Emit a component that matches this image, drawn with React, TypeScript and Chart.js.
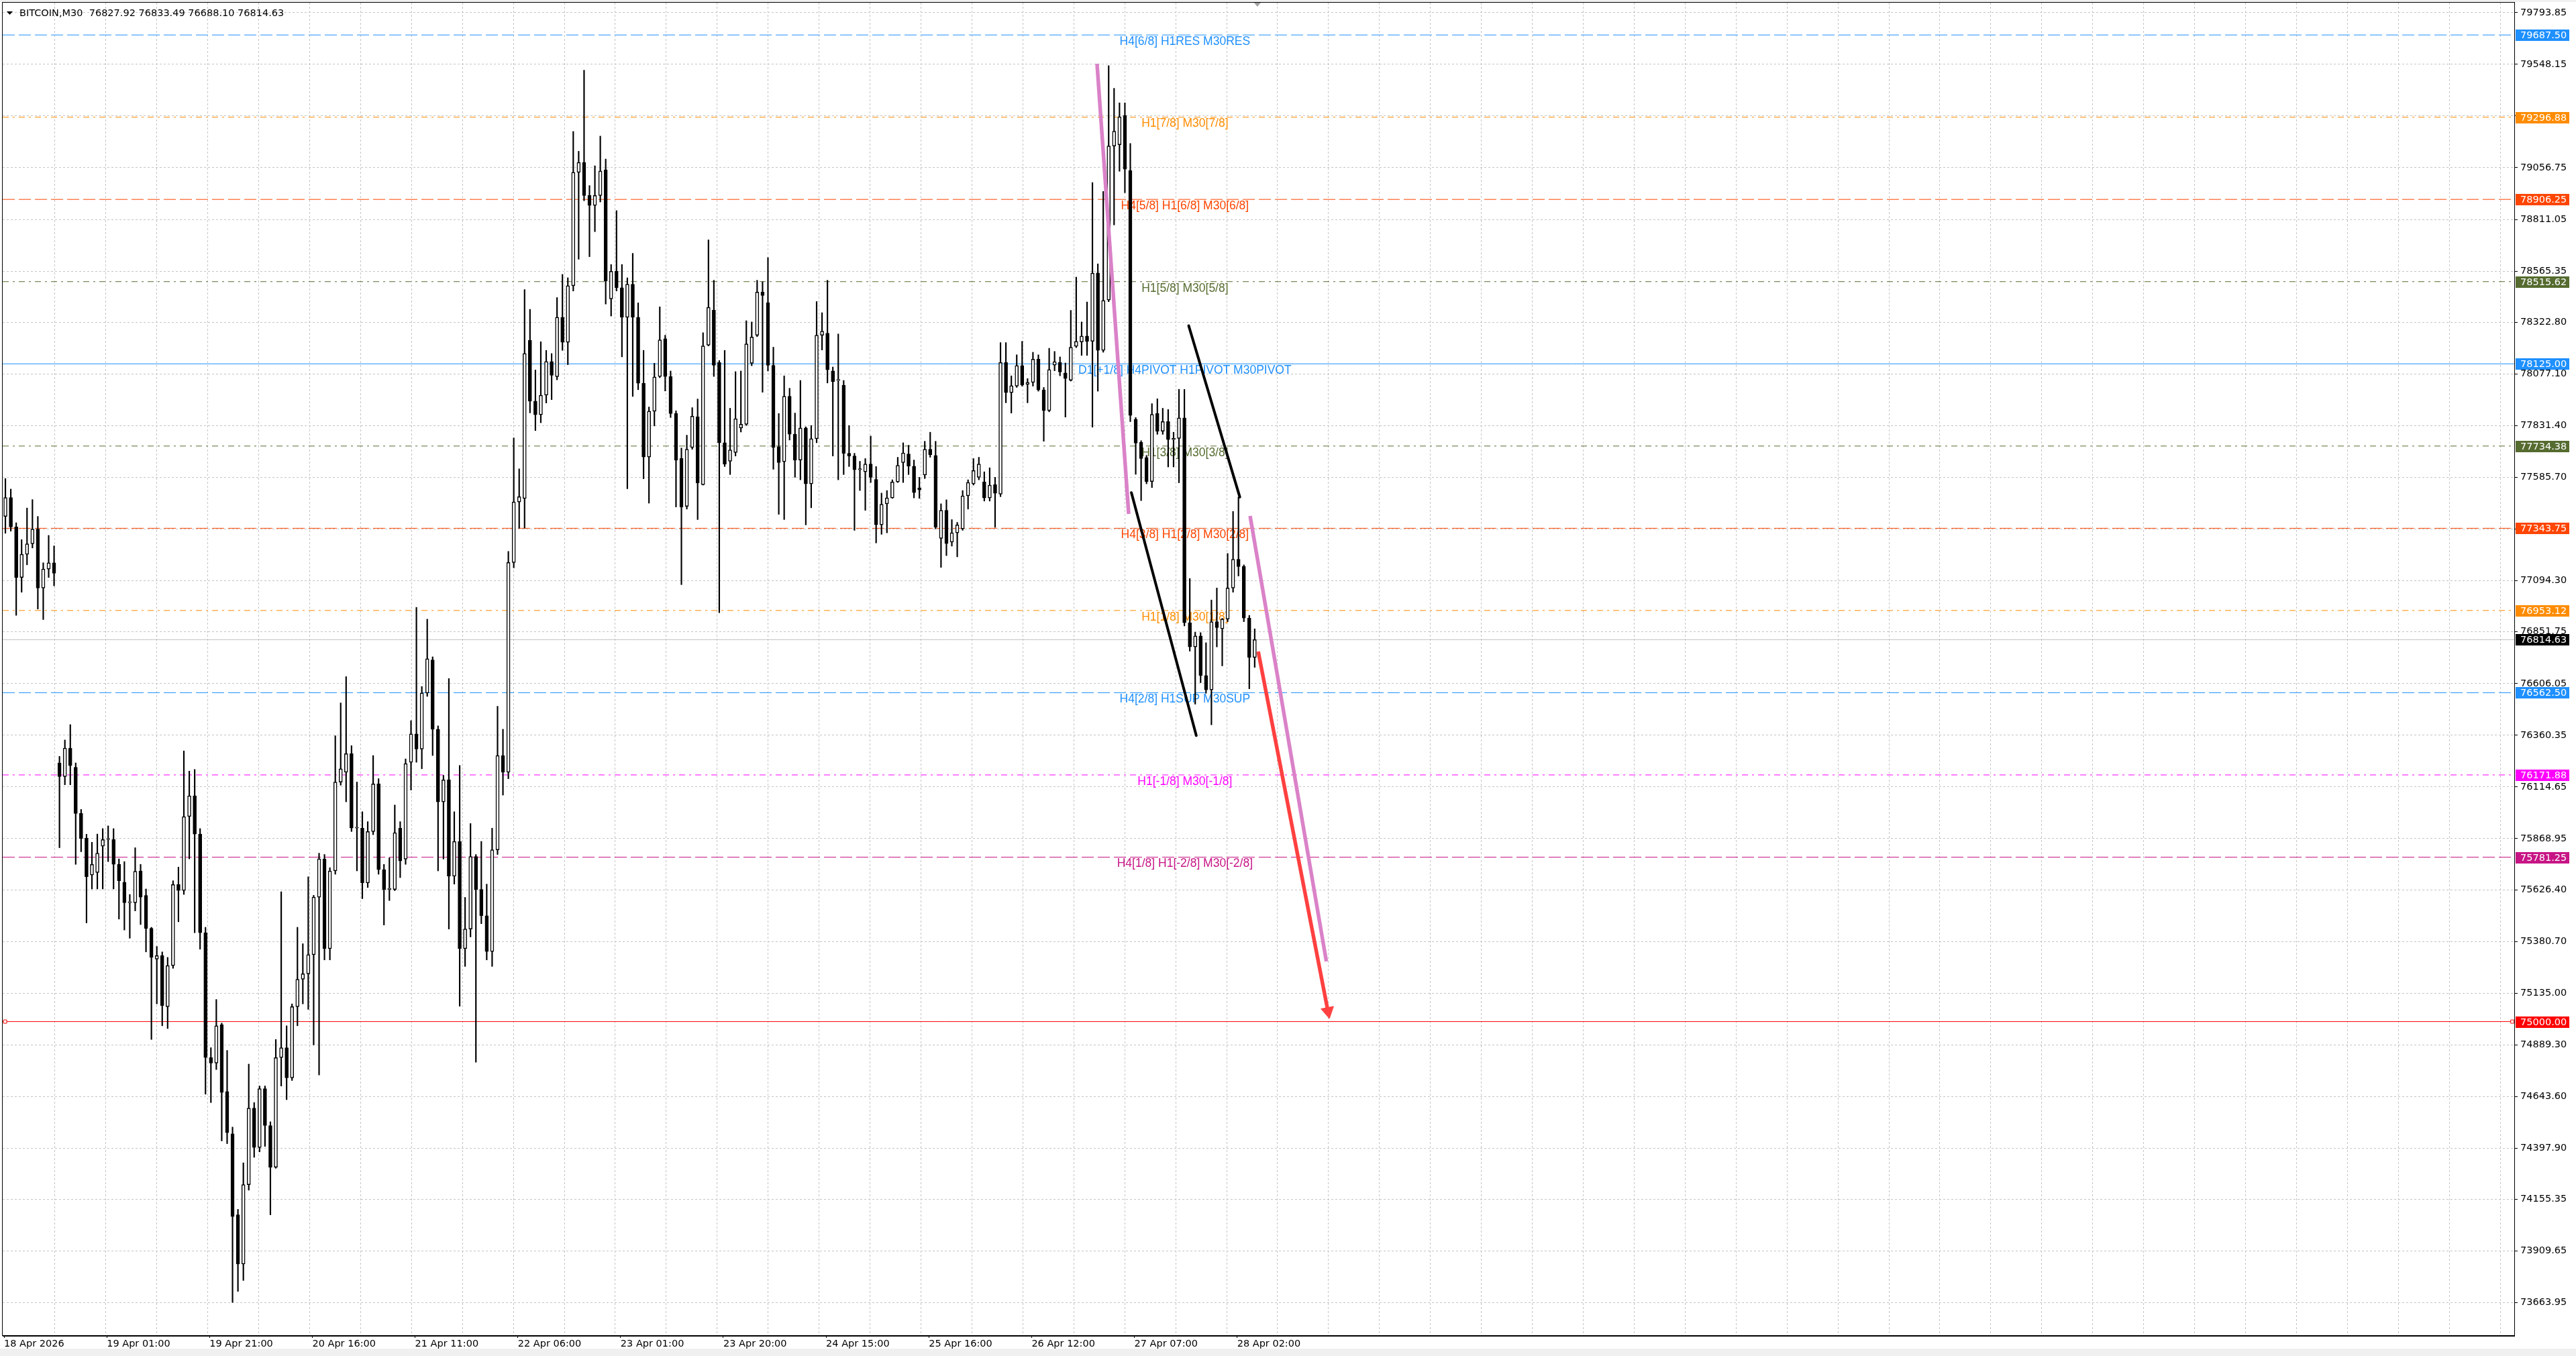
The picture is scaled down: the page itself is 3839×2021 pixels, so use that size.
import { useEffect, useRef } from 'react';
import { Chart, registerables } from 'chart.js';

Chart.register(...registerables);

// hourly candles (x = M30 bar index, 2 bars per candle)
const OPEN = [
  77400, 77490, 77350, 77110, 77220, 77270, 77340, 77060, 77150, 77180,
  76229, 76164, 76299, 76208, 75989, 75872, 75696, 75708, 75833, 75865,
  75865, 75747, 75662, 75565, 75565, 75716, 75599, 75443, 75297, 75313,
  75071, 75266, 75651, 75623, 75974, 76073, 75891, 75422, 74829, 74803,
  74985, 74668, 74467, 74082, 73848, 74225, 74589, 74402, 74681, 74506,
  74308, 74829, 74876, 74733, 75071, 75201, 75227, 75318, 75591, 75772,
  75346, 75716, 76138, 76185, 76273, 75919, 75919, 75659, 75903, 76129,
  75722, 75628, 75628, 75919, 75772, 76232, 76367, 76295, 76561, 76718,
  76389, 76044, 76148, 75691, 75856, 75346, 75440, 75784, 75628, 75503,
  75333, 75816, 76264, 76185, 77181, 77469, 77485, 78236, 77948, 77883,
  77976, 78136, 78064, 78346, 78227, 78496, 79035, 79082, 78925, 78878,
  78925, 79047, 78434, 78565, 78487, 78346, 78503, 78346, 78033, 77682,
  77900, 78065, 78244, 78065, 77889, 77675, 77448, 77728, 77874, 77551,
  78214, 78380, 78131, 77750, 77662, 77704, 77820, 77838, 78128, 78261,
  78466, 78416, 78118, 77731, 77660, 77971, 77791, 77668, 77820, 77555,
  77769, 78261, 78271, 78091, 78046, 78024, 77700, 77687, 77622, 77612,
  77649, 77576, 77360, 77460, 77488, 77564, 77656, 77697, 77639, 77536,
  77597, 77719, 77690, 77296, 77429, 77278, 77322, 77341, 77498, 77555,
  77586, 77564, 77488, 77551, 77506, 78131, 77988, 78019, 78117, 78027,
  78037, 78147, 78001, 77903, 78119, 78131, 78082, 78047, 78208, 78229,
  78257, 78232, 78557, 78189, 78428, 79160, 79166, 79305, 79043, 77862,
  77752, 77680, 77566, 77890, 77805, 77851, 77765, 77771, 77868, 76895,
  76780, 76832, 76644, 76576, 76900, 76866, 76912, 77060, 77196, 77162,
  76917, 76730
];
const HIGH = [
  77580, 77530, 77370, 77290, 77440, 77480, 77400, 77180, 77310, 77260,
  76260, 76338, 76411, 76229, 76008, 75890, 75852, 75891, 75917, 75930,
  75917, 75773, 75760, 75604, 75826, 75747, 75630, 75448, 75357, 75331,
  75305, 75669, 75734, 76286, 76190, 76198, 75917, 75448, 74876, 75105,
  74993, 74863, 74499, 74108, 74329, 74798, 74615, 74694, 74694, 74524,
  74915, 75617, 74980, 75084, 75448, 75370, 75688, 75600, 75800, 75794,
  75731, 76358, 76514, 76639, 76311, 76138, 75997, 75950, 76264, 76154,
  75747, 75778, 76029, 75950, 76248, 76430, 76968, 76592, 76912, 76733,
  76405, 76170, 76630, 75997, 76217, 75590, 75941, 75794, 75856, 75653,
  75919, 76498, 76389, 77234, 77773, 77626, 78478, 78384, 78096, 78230,
  78189, 78174, 78440, 78550, 78534, 79229, 79135, 79520, 78972, 79066,
  79207, 79098, 78597, 78853, 78597, 78534, 78650, 78415, 78189, 77920,
  78128, 78396, 78261, 78091, 77902, 77725, 77786, 77917, 77958, 78273,
  78714, 78522, 78141, 78189, 77914, 78088, 78091, 78330, 78324, 78522,
  78515, 78630, 78204, 77889, 78068, 78009, 77891, 78046, 77826, 77832,
  78421, 78368, 78522, 78110, 78267, 78046, 77832, 77700, 77662, 77675,
  77782, 77637, 77511, 77523, 77574, 77681, 77750, 77738, 77668, 77586,
  77757, 77800, 77757, 77460, 77479, 77385, 77372, 77523, 77574, 77675,
  77681, 77612, 77631, 77586, 78226, 78226, 78068, 78168, 78232, 78055,
  78180, 78168, 78013, 78199, 78184, 78158, 78129, 78379, 78537, 78324,
  78419, 78986, 78600, 78944, 79542, 79434, 79365, 79365, 79172, 77870,
  77760, 77690, 77936, 77959, 77914, 77908, 77800, 78004, 78004, 77105,
  76850, 76848, 76800, 77003, 77060, 76916, 77224, 77424, 77492, 77170,
  76930, 76866
];
const LOW = [
  77320, 77330, 76930, 77040, 77170, 77250, 76960, 76910, 77110, 77070,
  75826, 76125, 76125, 75747, 75807, 75469, 75630, 75630, 75630, 75760,
  75630, 75487, 75435, 75396, 75526, 75461, 75331, 74915, 75084, 74980,
  74967, 75253, 75474, 75604, 75773, 75422, 75344, 74655, 74615, 74772,
  74433, 74420, 73666, 73718, 73770, 74199, 74355, 74381, 74407, 74082,
  74303, 74694, 74629, 74720, 74980, 75084, 75058, 74889, 74746, 75293,
  75293, 75700, 76123, 76044, 75903, 75716, 75584, 75637, 75888, 75700,
  75459, 75575, 75622, 75684, 75747, 76100, 76232, 76201, 76545, 76264,
  75716, 75772, 75440, 75653, 75073, 75262, 75402, 74807, 75465, 75293,
  75262, 75794, 76076, 76154, 77156, 77344, 77344, 77892, 77808, 77845,
  77939, 77955, 78049, 78189, 78121, 78471, 78622, 78900, 78634, 78753,
  78894, 78409, 78352, 78471, 78158, 77532, 77970, 78002, 77579, 77463,
  77830, 78059, 77996, 77870, 77445, 77076, 77435, 77719, 77385, 77549,
  78210, 78065, 76943, 77637, 77599, 77687, 77801, 77832, 78116, 78254,
  77990, 78091, 77624, 77410, 77385, 77763, 77586, 77574, 77360, 77441,
  77750, 78191, 78034, 77687, 77574, 77599, 77637, 77334, 77523, 77429,
  77561, 77274, 77315, 77322, 77486, 77561, 77561, 77599, 77488, 77486,
  77580, 77681, 77341, 77158, 77214, 77259, 77208, 77334, 77435, 77549,
  77574, 77473, 77473, 77348, 77494, 77940, 77891, 78013, 78019, 77940,
  78019, 77995, 77757, 77897, 78092, 78068, 77872, 78043, 78202, 78165,
  78165, 77824, 77995, 78180, 78420, 78785, 79040, 78938, 77850, 77600,
  77475, 77555, 77537, 77790, 77790, 77635, 77635, 77560, 76880, 76760,
  76508, 76610, 76560, 76410, 76780, 76690, 76900, 77040, 77117, 76900,
  76581, 76683
];
const CLOSE = [
  77490, 77350, 77110, 77220, 77270, 77340, 77060, 77150, 77180, 77130,
  76164, 76299, 76216, 75989, 75870, 75688, 75747, 75800, 75865, 75865,
  75747, 75669, 75565, 75565, 75714, 75591, 75443, 75305, 75313, 75076,
  75266, 75651, 75623, 75974, 76073, 75891, 75422, 74829, 74803, 74980,
  74663, 74472, 74074, 73848, 74225, 74589, 74402, 74681, 74506, 74308,
  74829, 74876, 74733, 75071, 75201, 75227, 75318, 75591, 75773, 75346,
  75716, 76138, 76201, 76273, 75919, 75919, 75659, 75903, 76129, 75722,
  75628, 75628, 75897, 75763, 76226, 76367, 76295, 76561, 76724, 76389,
  76044, 76148, 75691, 75856, 75346, 75440, 75784, 75628, 75503, 75333,
  75816, 76264, 76185, 77181, 77469, 77494, 78174, 77948, 77883, 77976,
  78136, 78070, 78346, 78227, 78496, 79035, 79082, 78925, 78878, 78925,
  79041, 78518, 78565, 78487, 78346, 78503, 78346, 78033, 77682, 77900,
  78063, 78239, 78065, 77889, 77668, 77445, 77719, 77876, 77559, 78210,
  78393, 78118, 77750, 77649, 77716, 77864, 77838, 78220, 78252, 78466,
  78450, 78118, 77728, 77656, 77971, 77791, 77668, 77820, 77555, 77769,
  78261, 78280, 78097, 78040, 78046, 77700, 77687, 77622, 77627, 77649,
  77586, 77360, 77458, 77488, 77564, 77643, 77702, 77639, 77513, 77526,
  77719, 77693, 77349, 77429, 77271, 77322, 77360, 77498, 77561, 77618,
  77649, 77488, 77549, 77510, 78131, 77988, 78021, 78117, 78025, 78037,
  78147, 78001, 77903, 78098, 78135, 78086, 78055, 78204, 78232, 78257,
  78232, 78556, 78189, 78426, 79160, 79230, 79299, 79050, 77880, 77748,
  77675, 77566, 77885, 77805, 77851, 77765, 77771, 77868, 76895, 76780,
  76832, 76644, 76576, 76900, 76872, 76912, 77060, 77196, 77162, 76917,
  76730, 76815
];

const X_LABELS = [
  '18 Apr 2026', '19 Apr 01:00', '19 Apr 21:00', '20 Apr 16:00', '21 Apr 11:00',
  '22 Apr 06:00', '23 Apr 01:00', '23 Apr 20:00', '24 Apr 15:00', '25 Apr 16:00',
  '26 Apr 12:00', '27 Apr 07:00', '28 Apr 02:00'
];
const X_LABEL_BARS = [0, 38, 76, 114, 152, 190, 228, 266, 304, 342, 380, 418, 456];

const Y_TICKS = [
  79793.85, 79548.15, 79302.45, 79056.75, 78811.05, 78565.35, 78322.8, 78077.1,
  77831.4, 77585.7, 77340.0, 77094.3, 76851.75, 76606.05, 76360.35, 76114.65,
  75868.95, 75626.4, 75380.7, 75135.0, 74889.3, 74643.6, 74397.9, 74155.35,
  73909.65, 73663.95
];

const LEVEL_PRICES = [
  79687.5, 79296.88, 78906.25, 78515.62, 78125.0, 77734.38,
  77343.75, 76953.12, 76562.5, 76171.88, 75781.25
];
const LEVEL_LABELS = [
  'H4[6/8] H1RES M30RES',
  'H1[7/8] M30[7/8]',
  'H4[5/8] H1[6/8] M30[6/8]',
  'H1[5/8] M30[5/8]',
  'D1[+1/8] H4PIVOT H1PIVOT M30PIVOT',
  'H1[3/8] M30[3/8]',
  'H4[3/8] H1[2/8] M30[2/8]',
  'H1[1/8] M30[1/8]',
  'H4[2/8] H1SUP M30SUP',
  'H1[-1/8] M30[-1/8]',
  'H4[1/8] H1[-2/8] M30[-2/8]'
];
const TARGET_PRICE = 75000;
const LAST_PRICE = 76814.63;
const LAST_BAR_OHLC = [76827.92, 76833.49, 76688.1, 76814.63];

// hand drawn objects, [bar, price] end points
const PINK_1_X = [404.2, 415.9];
const PINK_1_Y = [79551, 77412];
const PINK_2_X = [460.8, 489.0];
const PINK_2_Y = [77402, 75286];
const BLACK_1_X = [416.9, 440.9];
const BLACK_1_Y = [77513, 76359];
const BLACK_2_X = [438.1, 457.0];
const BLACK_2_Y = [78306, 77492];
const ARROW_X = [463.8, 489.6];
const ARROW_Y = [76758, 75049];

// styles
const LEVEL_COLORS = [
  '#1e90ff', '#ff8c00', '#ff4500', '#556b2f', '#1e90ff', '#556b2f',
  '#ff4500', '#ff8c00', '#1e90ff', '#ff00ff', '#c71585'
];
const LEVEL_STYLE = [
  'dash', 'dashdot', 'dash', 'dashdot', 'solid', 'dashdot',
  'dash', 'dashdot', 'dash', 'dashdot', 'dash'
];
const DASHES: Record<string, number[]> = { dash: [18, 6], dashdot: [9, 6, 3, 6], solid: [] };

const W = 3839;
const H = 2021;
const X_MIN = -0.5;
const X_MAX = 928.3;
const Y_MIN = 73509.95;
const Y_MAX = 79840.9;
const LABEL_BAR = 436.7;
const GRID_START = 18.8;
const GRID_STEP = 18.84;
const AXIS_FONT = '"DejaVu Sans", Tahoma, sans-serif';
const LEVEL_FONT = '"Liberation Sans", Arial, sans-serif';

const candleX = (i: number) => i * 2 + 0.5;

const noPad = (s: any) => {
  s.paddingTop = 0;
  s.paddingBottom = 0;
  s.paddingLeft = 0;
  s.paddingRight = 0;
};

function hline(price: number, color: string, dash: number[]) {
  return {
    type: 'line' as const,
    data: [{ x: X_MIN, y: price }, { x: X_MAX, y: price }],
    borderColor: color,
    borderWidth: 1,
    borderDash: dash,
    pointRadius: 0,
    order: 100
  };
}

function trend(xs: number[], ys: number[], color: string, width: number, cap: CanvasLineCap) {
  return {
    type: 'line' as const,
    data: xs.map((x, i) => ({ x, y: ys[i] })),
    borderColor: color,
    borderWidth: width,
    borderCapStyle: cap,
    pointRadius: 0,
    order: 10
  };
}

const decor = {
  id: 'mt4decor',
  beforeDraw(chart: Chart) {
    const { ctx, width, height } = chart;
    ctx.save();
    ctx.fillStyle = '#fff';
    ctx.fillRect(0, 0, width, height);
    ctx.fillStyle = '#f0f0f0';
    ctx.fillRect(0, height - 11, width, 11);
    ctx.fillRect(0, 0, width, 3);
    ctx.restore();
  },
  beforeDatasetsDraw(chart: Chart) {
    const { ctx } = chart;
    const x = chart.scales.x;
    const y = chart.scales.y;
    ctx.save();
    ctx.font = `17.5px ${LEVEL_FONT}`;
    ctx.textAlign = 'center';
    ctx.textBaseline = 'middle';
    LEVEL_PRICES.forEach((p, i) => {
      ctx.fillStyle = LEVEL_COLORS[i];
      ctx.fillText(LEVEL_LABELS[i], x.getPixelForValue(LABEL_BAR), y.getPixelForValue(p) + 10);
    });
    ctx.restore();
  },
  afterDraw(chart: Chart) {
    const { ctx, chartArea: a } = chart;
    const x = chart.scales.x;
    const y = chart.scales.y;
    ctx.save();
    // frame
    ctx.strokeStyle = '#000';
    ctx.lineWidth = 1;
    ctx.strokeRect(a.left - 0.5, a.top - 0.5, a.right - a.left + 1, a.bottom - a.top + 1);
    ctx.beginPath();
    ctx.moveTo(a.left, a.bottom + 1.5);
    ctx.lineTo(a.right + 1, a.bottom + 1.5);
    ctx.stroke();

    // price boxes on the right scale
    const boxes: [number, string][] = LEVEL_PRICES.map((p, i) => [p, LEVEL_COLORS[i]] as [number, string]);
    boxes.push([TARGET_PRICE, '#ff0000']);
    boxes.push([LAST_PRICE, '#000000']);
    ctx.font = `14.5px ${AXIS_FONT}`;
    ctx.textAlign = 'left';
    ctx.textBaseline = 'middle';
    for (const [p, c] of boxes) {
      const py = Math.round(y.getPixelForValue(p));
      ctx.fillStyle = c;
      ctx.fillRect(a.right + 2, py - 8, 80, 17);
      ctx.fillStyle = '#fff';
      ctx.fillText(p.toFixed(2), a.right + 9, py + 1);
    }

    // chart shift marker
    const sx = x.getPixelForValue(463.5);
    ctx.fillStyle = '#a0a0a0';
    ctx.beginPath();
    ctx.moveTo(sx - 5, a.top);
    ctx.lineTo(sx + 5, a.top);
    ctx.lineTo(sx, a.top + 6);
    ctx.closePath();
    ctx.fill();

    // header
    ctx.fillStyle = '#000';
    ctx.beginPath();
    ctx.moveTo(a.left + 6, a.top + 13);
    ctx.lineTo(a.left + 15, a.top + 13);
    ctx.lineTo(a.left + 10.5, a.top + 18);
    ctx.closePath();
    ctx.fill();
    ctx.fillStyle = '#000';
    ctx.fillText(
      `BITCOIN,M30  ${LAST_BAR_OHLC.map((v) => v.toFixed(2)).join(' ')}`,
      a.left + 25,
      a.top + 16
    );
    ctx.restore();
  }
};

export default function App() {
  const ref = useRef<HTMLCanvasElement | null>(null);

  useEffect(() => {
    document.body.style.margin = '0';
    document.body.style.overflow = 'hidden';
    if (!ref.current) return;

    const wicks = OPEN.map((_, i) => ({ x: candleX(i), y: [LOW[i], HIGH[i]] }));
    const bodies = OPEN.map((o, i) => ({ x: candleX(i), y: [o, CLOSE[i]] }));

    const levelSets = LEVEL_PRICES.map((p, i) => hline(p, LEVEL_COLORS[i], DASHES[LEVEL_STYLE[i]]));

    const chart = new Chart(ref.current, {
      type: 'bar',
      data: {
        datasets: [
          ...levelSets,
          hline(LAST_PRICE, '#c0c0c0', []),
          {
            type: 'line',
            data: [
              { x: X_MIN, y: TARGET_PRICE },
              { x: 0.4, y: TARGET_PRICE },
              { x: 927.6, y: TARGET_PRICE },
              { x: X_MAX, y: TARGET_PRICE }
            ],
            borderColor: '#ff0000',
            borderWidth: 1,
            pointStyle: 'rect',
            pointRadius: [0, 3.5, 3.5, 0],
            pointBackgroundColor: '#ffffff',
            pointBorderColor: '#ff0000',
            pointBorderWidth: 1,
            order: 90
          },
          {
            type: 'bar',
            data: wicks,
            backgroundColor: '#000',
            borderWidth: 0,
            barThickness: 1.5,
            grouped: false,
            order: 60
          },
          {
            type: 'bar',
            data: bodies,
            backgroundColor: (c: any) => (CLOSE[c.dataIndex] >= OPEN[c.dataIndex] ? '#ffffff' : '#000000'),
            borderColor: '#000',
            borderWidth: 1.5,
            borderSkipped: false,
            barThickness: 5,
            minBarLength: 1.5,
            grouped: false,
            order: 50
          },
          trend(PINK_1_X, PINK_1_Y, '#da82c8', 5.5, 'butt'),
          trend(PINK_2_X, PINK_2_Y, '#da82c8', 5.5, 'butt'),
          trend(BLACK_1_X, BLACK_1_Y, '#000000', 4, 'round'),
          trend(BLACK_2_X, BLACK_2_Y, '#000000', 4, 'round'),
          {
            type: 'line',
            data: ARROW_X.map((x, i) => ({ x, y: ARROW_Y[i] })),
            borderColor: '#ff4040',
            borderWidth: 5.5,
            borderCapStyle: 'butt',
            pointStyle: 'triangle',
            pointRadius: [0, 11],
            pointBackgroundColor: '#ff4040',
            pointBorderColor: '#ff4040',
            pointBorderWidth: 1,
            pointRotation: (c: any) => {
              const sx = c.chart.scales.x;
              const sy = c.chart.scales.y;
              const dx = sx.getPixelForValue(ARROW_X[1]) - sx.getPixelForValue(ARROW_X[0]);
              const dy = sy.getPixelForValue(ARROW_Y[1]) - sy.getPixelForValue(ARROW_Y[0]);
              return (Math.atan2(dx, -dy) * 180) / Math.PI;
            },
            order: 5
          }
        ] as any
      },
      options: {
        responsive: false,
        devicePixelRatio: 1,
        animation: false,
        events: [],
        layout: { autoPadding: false, padding: { left: 4, top: 4, right: 0, bottom: 0 } },
        plugins: {
          legend: { display: false },
          tooltip: { enabled: false }
        },
        scales: {
          x: {
            type: 'linear',
            position: 'bottom',
            offset: false,
            min: X_MIN,
            max: X_MAX,
            afterBuildTicks: (s: any) => {
              s.ticks = X_LABEL_BARS.map((v) => ({ value: v }));
            },
            afterFit: (s: any) => {
              s.height = 31;
              noPad(s);
            },
            grid: { offset: false, drawOnChartArea: false, drawTicks: true, tickLength: 4, tickColor: '#000', color: '#000' },
            border: { display: false },
            ticks: {
              align: 'start',
              autoSkip: false,
              maxRotation: 0,
              minRotation: 0,
              padding: 1,
              color: '#000',
              font: { family: AXIS_FONT, size: 14.5 },
              callback: (_v: any, i: number) => X_LABELS[i]
            }
          },
          xg: {
            type: 'linear',
            axis: 'x',
            position: 'bottom',
            offset: false,
            min: X_MIN,
            max: X_MAX,
            afterBuildTicks: (s: any) => {
              const t = [];
              for (let v = GRID_START; v < X_MAX; v += GRID_STEP) t.push({ value: v });
              s.ticks = t;
            },
            afterFit: (s: any) => {
              s.height = 0;
              noPad(s);
            },
            grid: { offset: false, drawOnChartArea: true, drawTicks: false, color: '#c4c4c4', borderDash: [3, 3] },
            border: { display: false, dash: [3, 3] },
            ticks: { display: false }
          },
          y: {
            type: 'linear',
            position: 'right',
            min: Y_MIN,
            max: Y_MAX,
            afterBuildTicks: (s: any) => {
              s.ticks = Y_TICKS.map((v) => ({ value: v }));
            },
            afterFit: (s: any) => {
              s.width = 92;
              noPad(s);
            },
            grid: {
              color: '#c4c4c4',
              borderDash: [3, 3],
              tickColor: '#000',
              tickLength: 5,
              tickBorderDash: []
            },
            border: { display: false, dash: [3, 3] },
            ticks: {
              autoSkip: false,
              padding: 4,
              color: '#000',
              font: { family: AXIS_FONT, size: 14.5 },
              callback: (v: any) => Number(v).toFixed(2)
            }
          }
        }
      } as any,
      plugins: [decor]
    });

    return () => chart.destroy();
  }, []);

  return (
    <div style={{ width: W, height: H, position: 'relative' }}>
      <canvas ref={ref} width={W} height={H} style={{ display: 'block', width: W, height: H }} />
    </div>
  );
}
